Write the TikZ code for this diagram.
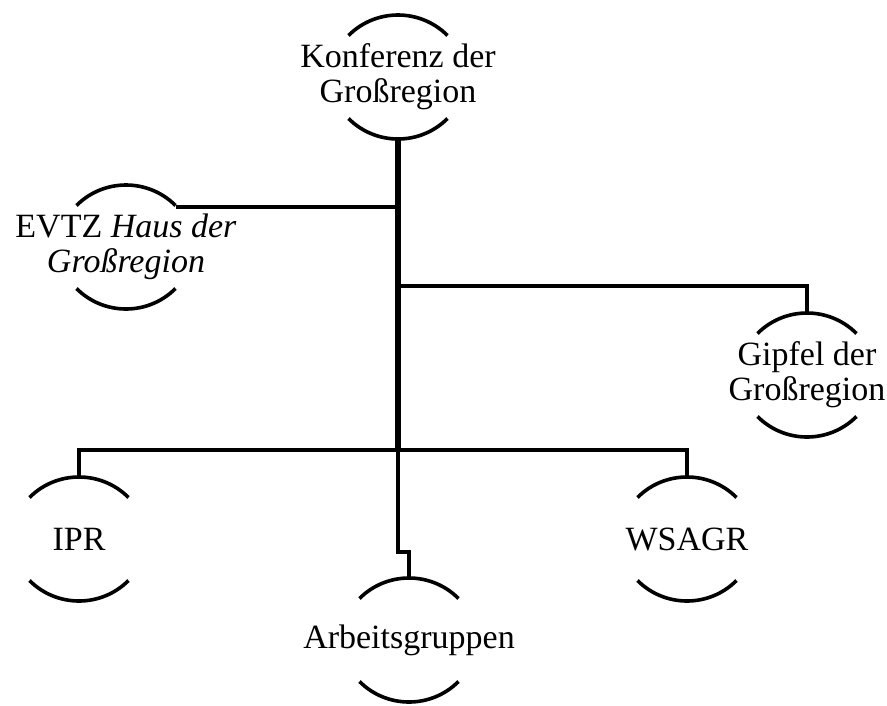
\documentclass[tikz,border=0pt]{standalone}
\usepackage{fontspec}
\setmainfont{Liberation Serif}
\usepackage{tikz}

\tikzset{
    bubble/.style={rectangle, minimum height=124pt, inner sep=0pt, align=center,
        font=\fontsize{34}{35}\selectfont},
    arcline/.style={line width=3.6pt},
    branch/.style={line width=3.8pt},
    trunk/.style={line width=5.5pt}
}

\begin{document}
\begin{tikzpicture}[x=1pt, y=1pt]
    \useasboundingbox (0,0) rectangle (887,-705);

    % Organs of the region
    \node[bubble] (konf) at (398,-77) {Konferenz der\\Großregion};
    \node[bubble] (evtz) at (126,-247) {EVTZ \textit{Haus der}\\\textit{Großregion}};
    \node[bubble] (gipfel) at (807,-375) {Gipfel der\\Großregion};
    \node[bubble] (ipr) at (79,-539) {IPR};
    \node[bubble] (wsagr) at (687,-539) {WSAGR};
    \node[bubble] (arb) at (409,-640) {Arbeitsgruppen};

    % Arcs above and below every text
    \foreach \n in {konf,evtz,gipfel,ipr,wsagr,arb} {
        \draw[arcline] ([shift={(-49.5,41.5)}]\n.center) arc[start angle=135, end angle=45, radius=70];
        \draw[arcline] ([shift={(-49.5,-41.5)}]\n.center) arc[start angle=225, end angle=315, radius=70];
    }

    % Junctions on the trunk
    \coordinate (split) at (398,-286);
    \coordinate (hub) at (398,-450);
    \coordinate (jog) at (398,-552);
    \coordinate (evtz tip) at ([shift={(49.5,40)}]evtz.center);

    % Trunk
    \draw[trunk] (konf.south) -- (hub);
    \draw[branch] (hub) -- (jog) -| (arb.north);

    % Branches
    \draw[branch] (evtz tip) -- (evtz tip -| hub);
    \draw[branch] (split) -| (gipfel.north);
    \draw[branch] (ipr.north) |- (hub) -| (wsagr.north);
\end{tikzpicture}
\end{document}
